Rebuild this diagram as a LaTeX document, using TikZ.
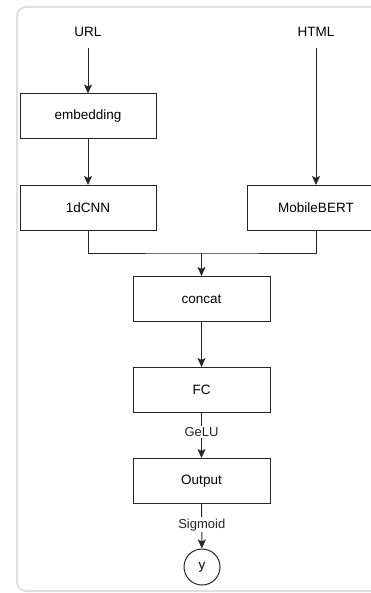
\documentclass[tikz,border=0pt]{standalone}
\usepackage{fontspec}
\setmainfont{Liberation Sans}
\usetikzlibrary{arrows.meta}

\tikzset{
	layer/.style={draw=black!85, line width=1pt, minimum width=136pt, minimum height=45pt, inner sep=0pt},
	flow/.style={-{Stealth[length=9pt,width=8pt,inset=2pt]}, line width=1pt, black!85},
	act/.style={fill=white, inner sep=1.5pt, font=\fontsize{13}{15}\selectfont}
}

\begin{document}
\begin{tikzpicture}[x=1pt, y=-1pt, font=\fontsize{13.5}{16}\selectfont]

	\useasboundingbox (0,0) rectangle (370,593);

	% --- Frame ---
	\draw[black!12, line width=2pt, rounded corners=9pt] (17,7) rectangle (392,591);

	% --- Inputs ---
	\node (url) at (88,32) {URL};
	\node (html) at (316,32) {HTML};

	% --- Layers ---
	\node[layer] (embed) at (88,116.5) {embedding};
	\node[layer] (cnn) at (88,208) {1dCNN};
	\node[layer, minimum width=138pt] (bert) at (316,208) {MobileBERT};
	\node[layer, minimum width=137pt] (concat) at (201.5,299) {concat};
	\node[layer, minimum width=137pt] (fc) at (201.5,390) {FC};
	\node[layer, minimum width=137pt] (out) at (201.5,481) {Output};
	\node[draw=black!85, line width=1pt, circle, minimum size=36pt, inner sep=0pt] (y) at (202,567) {y};

	% --- Connections ---
	\coordinate (join) at (201.5,253);
	\draw[flow, shorten <=8pt] (url.south) -- (embed);
	\draw[flow, shorten <=8pt] (html.south) -- (bert);
	\draw[flow] (embed) -- (cnn);
	\draw[line width=1pt, black!85] (cnn.south) |- (join) -| (bert.south);
	\draw[flow] (join) -- (concat);
	\draw[flow] (concat) -- (fc);
	\draw[flow] (fc) -- node[act, pos=0.42] {GeLU} (out);
	\draw[flow] (out) -- node[act, pos=0.47] {Sigmoid} (y);

\end{tikzpicture}
\end{document}
